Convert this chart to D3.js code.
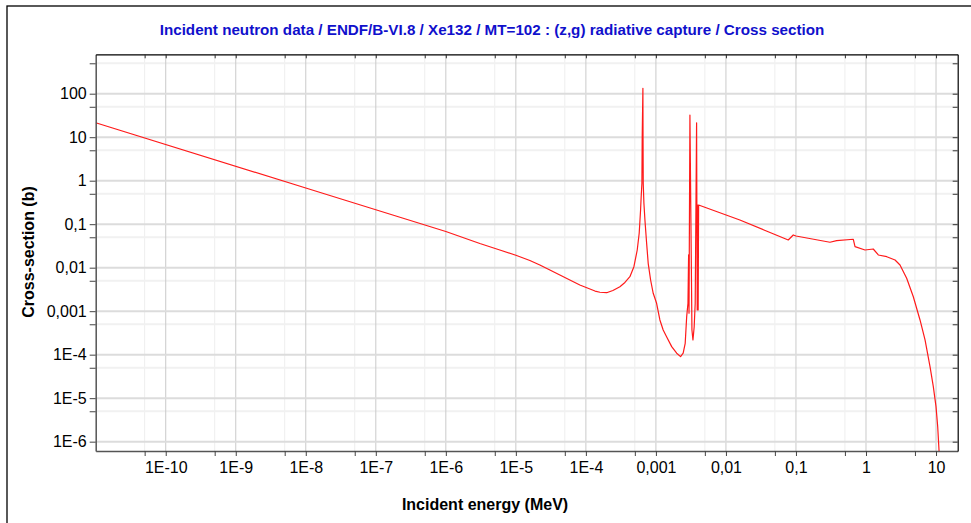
<!DOCTYPE html>
<html>
<head>
<meta charset="utf-8">
<script src="https://cdn.jsdelivr.net/npm/d3@7"></script>
<style>
  html, body { margin: 0; padding: 0; background: #fff; }
  svg { display: block; font-family: "Liberation Sans", Arial, sans-serif; }
</style>
</head>
<body>
<svg id="chart" width="971" height="523"></svg>
<script>
// Xe-132 (n,g) capture cross section, ENDF/B-VI.8, MT=102
const energyMeV = [
  1e-11, 1e-8, 1e-6, 3.06e-6, 5.9e-6, 1e-5, 1.585e-5, 2.2e-5, 3.06e-5, 4.25e-5,
  8.2e-5, 1.35e-4, 1.585e-4, 1.98e-4, 2.43e-4, 3.06e-4, 3.61e-4, 4.25e-4,
  4.85e-4, 5.41e-4, 5.77e-4, 6.04e-4, 6.16e-4, 6.31e-4,
  6.37e-4, 6.52e-4, 6.55e-4, 6.59e-4, 6.74e-4, 6.97e-4, 7.37e-4, 7.76e-4,
  8.40e-4, 9.15e-4, 1.023e-3, 1.14e-3, 1.27e-3, 1.42e-3, 1.68e-3, 1.98e-3,
  2.25e-3, 2.45e-3, 2.62e-3, 2.75e-3, 2.87e-3, 2.93e-3, 2.97e-3, 3.06e-3,
  3.27e-3, 3.38e-3, 3.52e-3, 3.64e-3, 3.81e-3, 3.89e-3, 3.95e-3, 4.01e-3,
  4.07e-3, 0.0158, 0.0349, 0.0776, 0.0915, 0.1, 0.306, 0.381, 0.659, 0.697,
  0.968, 1.27, 1.50, 1.98, 2.60, 3.06, 3.81, 4.74, 5.91, 6.97, 8.21, 9.15,
  10.0, 10.57, 11.03, 11.4
];
const crossSectionB = [
  21.5, 0.68, 0.068, 0.036, 0.0255, 0.0193, 0.01466, 0.0115, 0.00885, 0.0068,
  0.0040, 0.0029, 0.00272, 0.00266, 0.00299, 0.00366, 0.00457, 0.0062,
  0.01054, 0.0255, 0.0618, 0.212, 0.428, 0.871,
  9.6, 133, 9.6, 0.871, 0.302, 0.125, 0.0364, 0.0126,
  0.00521, 0.00258, 0.00152, 6.28e-4, 3.70e-4, 2.59e-4, 1.53e-4, 1.08e-4,
  9.0e-5, 1.08e-4, 1.83e-4, 7.48e-4, 1.52e-3, 0.0196, 8.95e-4, 32.4,
  3.70e-4, 2.18e-4, 4.4e-4, 1.52e-3, 21.5, 1.07e-3, 0.276, 1.07e-3,
  0.276, 0.125, 0.0736, 0.0434, 0.0565, 0.0536, 0.0384, 0.0418, 0.045, 0.0304,
  0.0255, 0.0269, 0.0196, 0.0179, 0.0150, 0.01153, 0.0057, 0.00215, 6.28e-4, 2.18e-4, 5.3e-5, 1.84e-5,
  6.4e-6, 2.2e-6, 6.4e-7, 2.0e-7
];

// Axis ticks
const xMajorTicks = [1e-10, 1e-9, 1e-8, 1e-7, 1e-6, 1e-5, 1e-4, 1e-3, 1e-2, 1e-1, 1, 10];
const xMajorLabels = ["1E-10", "1E-9", "1E-8", "1E-7", "1E-6", "1E-5", "1E-4", "0,001", "0,01", "0,1", "1", "10"];
const xMinorTicks = [5e-11, 5e-10, 5e-9, 5e-8, 5e-7, 5e-6, 5e-5, 5e-4, 5e-3, 5e-2, 0.5, 5];
const yMajorTicks = [1e-6, 1e-5, 1e-4, 1e-3, 1e-2, 1e-1, 1, 10, 100];
const yMajorLabels = ["1E-6", "1E-5", "1E-4", "0,001", "0,01", "0,1", "1", "10", "100"];
const yMinorTicks = [5e-6, 5e-5, 5e-4, 5e-3, 5e-2, 0.5, 5, 50, 500];

const titleText = "Incident neutron data / ENDF/B-VI.8 / Xe132 / MT=102 : (z,g) radiative capture / Cross section";
const xTitle = "Incident energy (MeV)";
const yTitle = "Cross-section (b)";

const plot = { left: 95.7, right: 957.7, top: 54.3, bottom: 451 };

const x = d3.scaleLog().domain([1e-11, 20.4]).range([plot.left, plot.right]);
const y = d3.scaleLog().domain([6.1e-7, 805]).range([plot.bottom, plot.top]);

const svg = d3.select("#chart");

// outer frame (top and left edges visible)
svg.append("rect")
  .attr("x", 7).attr("y", 6).attr("width", 1100).attr("height", 1100)
  .attr("fill", "none").attr("stroke", "#000").attr("stroke-width", 1.3);

// title
svg.append("text")
  .attr("x", 492).attr("y", 34.5)
  .attr("text-anchor", "middle")
  .attr("fill", "#1010cc")
  .attr("font-weight", "bold")
  .attr("font-size", 15.2)
  .text(titleText);

const grid = svg.append("g");

// minor grid
grid.selectAll(".vmin").data(xMinorTicks).join("line")
  .attr("x1", d => x(d)).attr("x2", d => x(d))
  .attr("y1", plot.top).attr("y2", plot.bottom)
  .attr("stroke", "#eeeeee").attr("stroke-width", 1);
grid.selectAll(".hmin").data(yMinorTicks.filter(v => y(v) > plot.top)).join("line")
  .attr("x1", plot.left).attr("x2", plot.right)
  .attr("y1", d => y(d)).attr("y2", d => y(d))
  .attr("stroke", "#f1f1f1").attr("stroke-width", 2);

// major grid
grid.selectAll(".vmaj").data(xMajorTicks).join("line")
  .attr("x1", d => x(d)).attr("x2", d => x(d))
  .attr("y1", plot.top).attr("y2", plot.bottom)
  .attr("stroke", "#cacaca").attr("stroke-width", 1);
grid.selectAll(".hmaj").data(yMajorTicks).join("line")
  .attr("x1", plot.left).attr("x2", plot.right)
  .attr("y1", d => y(d)).attr("y2", d => y(d))
  .attr("stroke", "#dcdcdc").attr("stroke-width", 2);

// curve
svg.append("clipPath").attr("id", "clip")
  .append("rect")
  .attr("x", plot.left).attr("y", plot.top)
  .attr("width", plot.right - plot.left).attr("height", plot.bottom - plot.top);

const points = energyMeV.map((e, i) => [e, crossSectionB[i]]);
const line = d3.line().x(d => x(d[0])).y(d => y(d[1]));
svg.append("path")
  .datum(points)
  .attr("clip-path", "url(#clip)")
  .attr("d", line)
  .attr("fill", "none")
  .attr("stroke", "#ff1a1a")
  .attr("stroke-width", 1.2)
  .attr("stroke-linejoin", "round");

// axes
const labelFont = 16;
const xFmt = v => { const i = xMajorTicks.indexOf(v); return i >= 0 ? xMajorLabels[i] : ""; };
const yFmt = v => { const i = yMajorTicks.indexOf(v); return i >= 0 ? yMajorLabels[i] : ""; };

const bottomAxis = svg.append("g")
  .attr("transform", `translate(0,${plot.bottom})`)
  .call(d3.axisBottom(x).tickValues(xMajorTicks.concat(xMinorTicks)).tickFormat(xFmt).tickSize(5).tickSizeOuter(0).tickPadding(6));
const leftAxis = svg.append("g")
  .attr("transform", `translate(${plot.left},0)`)
  .call(d3.axisLeft(y).tickValues(yMajorTicks.concat(yMinorTicks.filter(v => y(v) > plot.top))).tickFormat(yFmt).tickSize(6).tickSizeOuter(0).tickPadding(3));
const topAxis = svg.append("g")
  .attr("transform", `translate(0,${plot.top})`)
  .call(d3.axisTop(x).tickValues(xMajorTicks.concat(xMinorTicks)).tickFormat("").tickSize(-4).tickSizeOuter(0));
const rightAxis = svg.append("g")
  .attr("transform", `translate(${plot.right},0)`)
  .call(d3.axisRight(y).tickValues(yMajorTicks.concat(yMinorTicks.filter(v => y(v) > plot.top))).tickFormat("").tickSize(-5).tickSizeOuter(0));

[bottomAxis, leftAxis].forEach(g => {
  g.select(".domain").attr("stroke", "#555").attr("stroke-width", 1.5);
  g.selectAll(".tick line").attr("stroke", "#444");
  g.selectAll("text").attr("font-size", labelFont).attr("fill", "#000")
    .attr("font-family", "\"Liberation Sans\", Arial, sans-serif");
});
[topAxis, rightAxis].forEach(g => {
  g.select(".domain").attr("stroke", "#000").attr("stroke-width", 1.2);
  g.selectAll(".tick line").attr("stroke", "#333");
});

// axis titles
svg.append("text")
  .attr("x", 485).attr("y", 510)
  .attr("text-anchor", "middle")
  .attr("font-weight", "bold").attr("font-size", 16)
  .text(xTitle);
svg.append("text")
  .attr("transform", "translate(34,252) rotate(-90)")
  .attr("text-anchor", "middle")
  .attr("font-weight", "bold").attr("font-size", 16)
  .text(yTitle);
</script>
</body>
</html>
